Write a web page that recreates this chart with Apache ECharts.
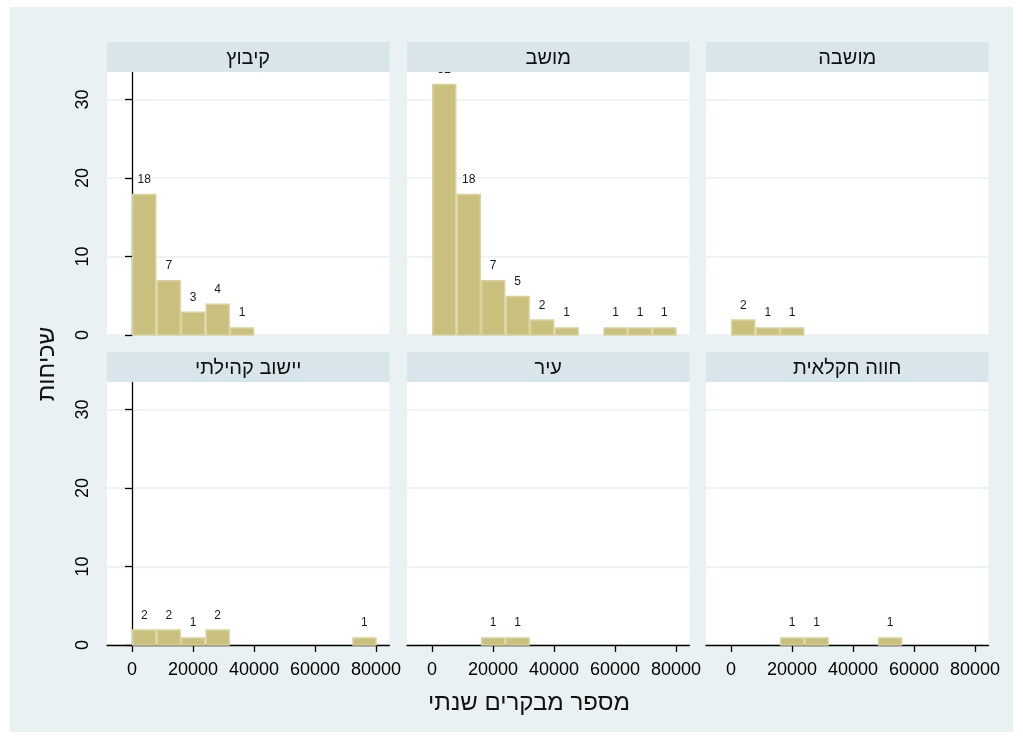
<!DOCTYPE html>
<html>
<head>
<meta charset="utf-8">
<script src="https://cdn.jsdelivr.net/npm/echarts@6/dist/echarts.min.js"></script>
<style>
  html, body { margin: 0; padding: 0; background: #ffffff; }
  #chart { width: 1023px; height: 737px; }
</style>
</head>
<body>
<div id="chart"></div>
<script>
// Panel titles (settlement type), in panel order: top row then bottom row
const categories = ['קיבוץ', 'מושב', 'מושבה', 'יישוב קהילתי', 'עיר', 'חווה חקלאית'];

// Histogram bin edges (annual visitors)
const binEdges = [0, 8020, 16040, 24060, 32080, 40100, 48120, 56140, 64160, 72180, 80200];

// Frequencies per bin for each settlement type
const countsKibbutz  = [18, 7, 3, 4, 1, 0, 0, 0, 0, 0];
const countsMoshav   = [32, 18, 7, 5, 2, 1, 0, 1, 1, 1];
const countsMoshava  = [2, 1, 1, 0, 0, 0, 0, 0, 0, 0];
const countsYishuv   = [2, 2, 1, 2, 0, 0, 0, 0, 0, 1];
const countsIr       = [0, 0, 1, 1, 0, 0, 0, 0, 0, 0];
const countsChava    = [0, 0, 1, 1, 0, 0, 1, 0, 0, 0];

// Axis ticks
const xTicks = [0, 20000, 40000, 60000, 80000];
const yTicks = [0, 10, 20, 30];

const xTitle = 'מספר מבקרים שנתי';
const yTitle = 'שכיחות';

const allCounts = [countsKibbutz, countsMoshav, countsMoshava, countsYishuv, countsIr, countsChava];

const FONT = "'Liberation Sans', 'DejaVu Sans', Arial, sans-serif";
const BG = '#e9f1f3';
const STRIP = '#d8e5eb';
const BAR_FILL = '#c9c07d';
const BAR_EDGE = '#d9d29c';

// panel geometry
const colLeft = [107, 407, 706];
const panelW = 282.5;
const rowTop = [42, 352];
const stripH = 30;
const plotH = 263;

const chart = echarts.init(document.getElementById('chart'), null, { renderer: 'canvas' });

const grids = [], xAxes = [], yAxes = [], series = [], graphics = [];

graphics.push({
  type: 'rect', z: -10,
  shape: { x: 10, y: 7, width: 1003, height: 725 },
  style: { fill: BG }
});

function renderBin(params, api) {
  const x0 = api.value(0), x1 = api.value(1), c = api.value(2);
  const pTop = api.coord([x0, c]);
  const pBot = api.coord([x1, 0]);
  return {
    type: 'group',
    children: [
      {
        type: 'rect',
        shape: { x: pTop[0] + 0.75, y: pTop[1] + 0.75, width: pBot[0] - pTop[0] - 1.5, height: pBot[1] - pTop[1] - 0.75 },
        style: { fill: BAR_FILL, stroke: BAR_EDGE, lineWidth: 1.5 }
      },
      {
        type: 'text',
        style: {
          text: String(c),
          x: (pTop[0] + pBot[0]) / 2,
          y: pTop[1] - 14,
          align: 'center', verticalAlign: 'middle',
          font: '12px ' + FONT, fill: '#1a1a1a'
        }
      }
    ]
  };
}

categories.forEach((name, i) => {
  const row = Math.floor(i / 3), col = i % 3;
  const left = colLeft[col];
  const top = rowTop[row] + stripH;

  grids.push({
    left: left, top: top, width: panelW, height: plotH,
    show: true, backgroundColor: '#ffffff', borderWidth: 0
  });

  const bottomRow = row === 1;
  xAxes.push({
    type: 'value', gridIndex: i,
    min: -8200, max: 84400,
    axisLine: { show: bottomRow, onZero: false, lineStyle: { color: '#000000', width: 1.3 } },
    axisTick: { show: bottomRow, customValues: xTicks, length: 7, lineStyle: { color: '#000000', width: 1.3 } },
    axisLabel: {
      show: bottomRow, customValues: xTicks, fontSize: 18, color: '#000000', fontFamily: FONT, margin: 16,
      formatter: v => String(v)
    },
    splitLine: { show: false }
  });

  const firstCol = col === 0;
  yAxes.push({
    type: 'value', gridIndex: i,
    min: 0, max: 33.5, interval: 10,
    axisLine: { show: firstCol, lineStyle: { color: '#000000', width: 1.3 } },
    axisTick: { show: firstCol, customValues: yTicks, length: 7, lineStyle: { color: '#000000', width: 1.3 } },
    axisLabel: {
      show: firstCol, customValues: yTicks, rotate: 90, fontSize: 18, color: '#000000', fontFamily: FONT, margin: 15,
      formatter: v => String(v)
    },
    splitLine: { show: true, lineStyle: { color: BG, width: 1.5 } }
  });

  const counts = allCounts[i];
  const data = [];
  counts.forEach((c, k) => {
    if (c > 0) data.push([binEdges[k], binEdges[k + 1], c]);
  });

  series.push({
    type: 'custom', name: name,
    xAxisIndex: i, yAxisIndex: i,
    renderItem: renderBin,
    encode: { x: [0, 1], y: 2 },
    data: data,
    clip: false,
    silent: true
  });

  // title strip drawn above the plot so tall labels tuck under it
  graphics.push({
    type: 'rect', z: 100,
    shape: { x: left, y: rowTop[row], width: panelW, height: stripH },
    style: { fill: STRIP }
  });
  graphics.push({
    type: 'text', z: 101,
    style: {
      text: name,
      x: left + panelW / 2, y: rowTop[row] + stripH / 2 + 1,
      align: 'center', verticalAlign: 'middle',
      font: '20px ' + FONT, fill: '#111111'
    }
  });
});

graphics.push({
  type: 'text', z: 101,
  style: {
    text: xTitle, x: 529, y: 703,
    align: 'center', verticalAlign: 'middle',
    font: '24px ' + FONT, fill: '#111111'
  }
});
graphics.push({
  type: 'text', z: 101,
  x: 47, y: 364, rotation: Math.PI / 2,
  style: {
    text: yTitle, x: 0, y: 0,
    align: 'center', verticalAlign: 'middle',
    font: '24px ' + FONT, fill: '#111111'
  }
});

chart.setOption({
  animation: false,
  backgroundColor: '#ffffff',
  grid: grids,
  xAxis: xAxes,
  yAxis: yAxes,
  series: series,
  graphic: graphics
});
</script>
</body>
</html>
